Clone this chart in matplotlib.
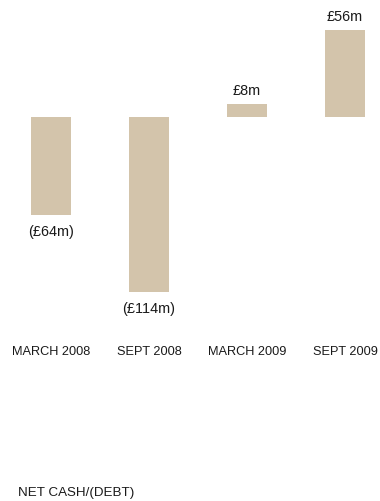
import matplotlib
matplotlib.use('Agg')
import matplotlib.pyplot as plt

plt.rcParams['font.family'] = ['Liberation Sans', 'DejaVu Sans']

periods = ['MARCH 2008', 'SEPT 2008', 'MARCH 2009', 'SEPT 2009']
net_cash = [-64, -114, 8, 56]
value_labels = ['(£64m)', '(£114m)', '£8m', '£56m']

BAR_COLOUR = '#D3C4AB'
TEXT_COLOUR = '#1a1a1a'

fig = plt.figure(figsize=(3.8, 5.02), dpi=100)
ax = fig.add_axes([0, 0, 1, 1])

x = list(range(len(periods)))
bars = ax.bar(x, net_cash, width=0.408, color=BAR_COLOUR, linewidth=0)

# value labels: above positive bars, below negative ones
for xi, v, lab in zip(x, net_cash, value_labels):
    if v >= 0:
        ax.annotate(lab, (xi, v), xytext=(0, 7), textcoords='offset pixels',
                    ha='center', va='bottom', fontsize=10.4, color=TEXT_COLOUR)
    else:
        ax.annotate(lab, (xi, v), xytext=(0, -9), textcoords='offset pixels',
                    ha='center', va='top', fontsize=10.4, color=TEXT_COLOUR)

# category names under the chart
for xi, name in zip(x, periods):
    ax.text(xi, -152.5, name, ha='center', va='center', fontsize=9.2, color=TEXT_COLOUR)

fig.text(18 / 380, 1 - 493.5 / 502, 'NET CASH/(DEBT)', ha='left', va='center',
         fontsize=9.6, color=TEXT_COLOUR)

ax.set_xlim(-0.5204, 3.357)
ax.set_ylim(-250.3, 76.5)
ax.axis('off')

fig.savefig('out.png', dpi=100, facecolor='white')
